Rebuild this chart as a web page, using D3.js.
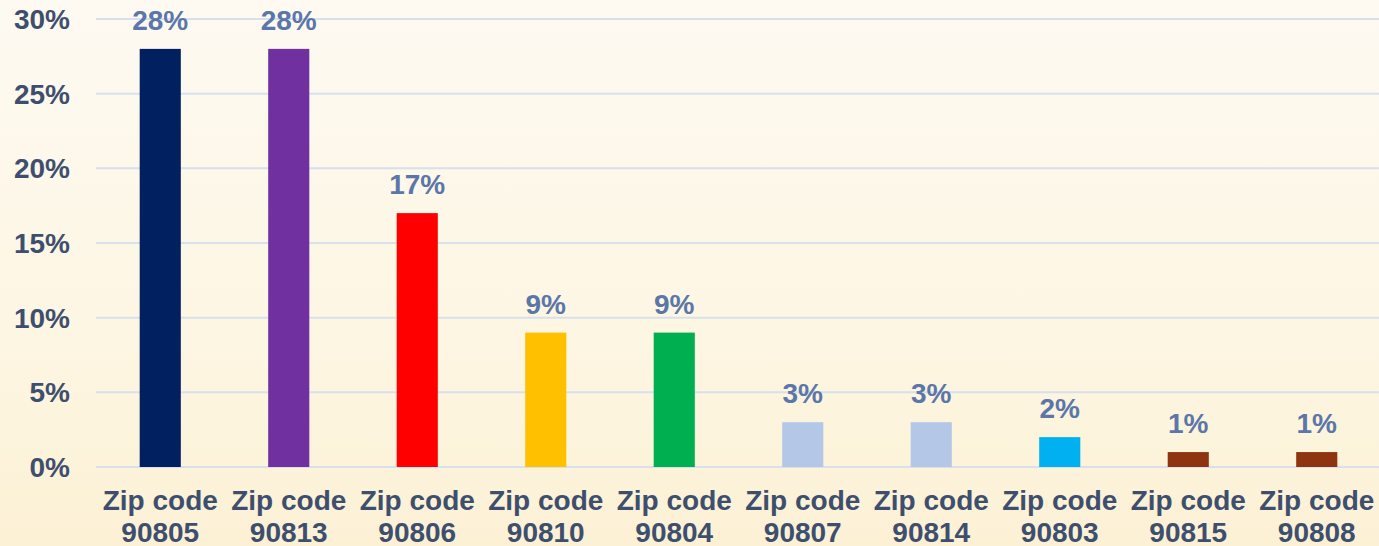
<!DOCTYPE html>
<html><head><meta charset="utf-8">
<script src="https://cdn.jsdelivr.net/npm/d3@7"></script>
<style>html,body{margin:0;padding:0;overflow:hidden;}svg{display:block;}</style>
</head><body>
<svg id="c" width="1379" height="546"></svg>
<script>
const categories = ["90805","90813","90806","90810","90804","90807","90814","90803","90815","90808"];
const values = [28,28,17,9,9,3,3,2,1,1];
const barColors = ["#002060","#7030A0","#FF0000","#FFC000","#00B050","#B4C7E7","#B4C7E7","#00B0F0","#8E3410","#8E3410"];
const yTicks = [0,5,10,15,20,25,30];

(function(){
const W=1379,H=546;
const svg=d3.select("#c");
const defs=svg.append("defs");
const g1=defs.append("linearGradient").attr("id","bg").attr("x1",0).attr("y1",0).attr("x2",0).attr("y2",1);
g1.append("stop").attr("offset","0%").attr("stop-color","#FEFAF2");
g1.append("stop").attr("offset","60%").attr("stop-color","#FDF6E3");
g1.append("stop").attr("offset","100%").attr("stop-color","#FCF1D5");
svg.append("rect").attr("width",W).attr("height",H).attr("fill","url(#bg)");

const mLeft=96,mRight=1381,mTop=19,mBottom=467;
const x=d3.scaleBand().domain(categories).range([mLeft,mRight]).paddingInner(0.68).paddingOuter(0.34);
const y=d3.scaleLinear().domain([0,30]).range([mBottom,mTop]);
const font="Liberation Sans, Arial, sans-serif";

svg.append("g").selectAll("line").data(yTicks).join("line")
  .attr("x1",mLeft).attr("x2",W).attr("y1",d=>y(d)).attr("y2",d=>y(d))
  .attr("stroke","#D8E0EC").attr("stroke-width",2);

svg.append("g").selectAll("text").data(yTicks).join("text")
  .attr("x",70).attr("y",d=>y(d)+10).attr("text-anchor","end")
  .attr("font-family",font).attr("font-weight","bold").attr("font-size",28)
  .attr("fill","#3E4F6E").text(d=>d+"%");

svg.append("g").selectAll("rect").data(values).join("rect")
  .attr("x",(d,i)=>x(categories[i])).attr("width",x.bandwidth())
  .attr("y",d=>y(d)).attr("height",d=>mBottom-y(d))
  .attr("fill",(d,i)=>barColors[i]);

svg.append("g").selectAll("text").data(values).join("text")
  .attr("x",(d,i)=>x(categories[i])+x.bandwidth()/2).attr("y",d=>y(d)-19)
  .attr("text-anchor","middle")
  .attr("font-family",font).attr("font-weight","bold").attr("font-size",28)
  .attr("fill","#5B76A8").text(d=>d+"%");

const xl=svg.append("g").selectAll("text").data(categories).join("text")
  .attr("text-anchor","middle")
  .attr("font-family",font).attr("font-weight","bold").attr("font-size",28)
  .attr("fill","#3E4F6E");
xl.append("tspan").attr("x",d=>x(d)+x.bandwidth()/2).attr("y",510).text("Zip code");
xl.append("tspan").attr("x",d=>x(d)+x.bandwidth()/2).attr("y",542).text(d=>d);
})();
</script>
</body></html>
